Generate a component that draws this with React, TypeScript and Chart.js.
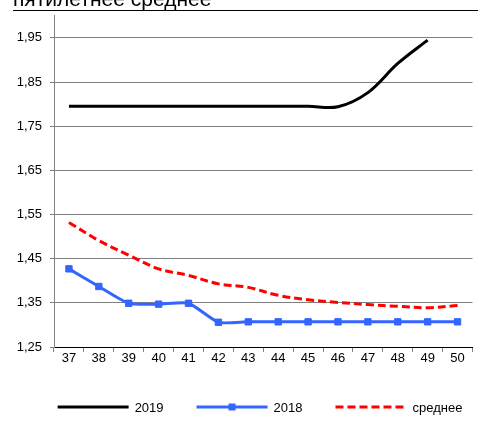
import React, { useEffect, useRef } from "react";
import { Chart, registerables } from "chart.js";

Chart.register(...registerables);

const titleText = "пятилетнее среднее";
const weeks = ["37", "38", "39", "40", "41", "42", "43", "44", "45", "46", "47", "48", "49", "50"];
const label2019 = "2019";
const label2018 = "2018";
const labelAvg = "среднее";
const values2019 = [1.795, 1.795, 1.795, 1.795, 1.795, 1.795, 1.795, 1.795, 1.795, 1.794, 1.826, 1.892, 1.945, null];
const values2018 = [1.427, 1.387, 1.349, 1.347, 1.349, 1.306, 1.307, 1.307, 1.307, 1.307, 1.307, 1.307, 1.307, 1.307];
const valuesAvg = [1.532, 1.491, 1.458, 1.427, 1.412, 1.393, 1.385, 1.367, 1.357, 1.351, 1.346, 1.342, 1.339, 1.344];
const yTicks = [1.25, 1.35, 1.45, 1.55, 1.65, 1.75, 1.85, 1.95];

const FONT = "'Liberation Sans', Arial, sans-serif";
const BLACK = "#000000";
const BLUE = "#3366ff";
const RED = "#ff0000";
const GRID = "#808080";

const decorPlugin = {
  id: "decor",
  afterDraw(chart: any) {
    const ctx = chart.ctx as CanvasRenderingContext2D;
    ctx.save();
    // clipped title
    ctx.font = `21px ${FONT}`;
    ctx.fillStyle = "#000";
    ctx.textBaseline = "alphabetic";
    ctx.textAlign = "left";
    ctx.fillText(titleText, 13, 6);
    // rule under title
    ctx.strokeStyle = "#000";
    ctx.lineWidth = 1;
    ctx.beginPath();
    ctx.moveTo(13, 10.5);
    ctx.lineTo(chart.width, 10.5);
    ctx.stroke();

    // legend
    ctx.font = `13px ${FONT}`;
    const lineLen = 71;
    const textGap = 6;
    const itemGap = 33;
    const items = chart.data.datasets.map((ds: any) => ({
      label: ds.label,
      color: ds.borderColor,
      dash: ds.borderDash || [],
      marker: ds.pointRadius > 0,
      w: ctx.measureText(ds.label).width,
    }));
    let total = 0;
    items.forEach((it: any, i: number) => {
      total += lineLen + textGap + it.w + (i < items.length - 1 ? itemGap : 0);
    });
    let x = 260 - total / 2;
    const y = 407;
    items.forEach((it: any) => {
      ctx.strokeStyle = it.color;
      ctx.lineWidth = 3;
      ctx.setLineDash(it.dash);
      ctx.beginPath();
      ctx.moveTo(x, y);
      ctx.lineTo(x + lineLen, y);
      ctx.stroke();
      ctx.setLineDash([]);
      if (it.marker) {
        ctx.fillStyle = it.color;
        ctx.fillRect(x + lineLen / 2 - 3.5, y - 3.5, 7, 7);
      }
      ctx.fillStyle = "#000";
      ctx.textBaseline = "middle";
      ctx.fillText(it.label, x + lineLen + textGap, y + 1);
      x += lineLen + textGap + it.w + itemGap;
    });
    ctx.restore();
  },
};

export default function App() {
  const ref = useRef<HTMLCanvasElement | null>(null);
  useEffect(() => {
    document.body.style.margin = "0";
    const chart = new Chart(ref.current as HTMLCanvasElement, {
      type: "line",
      data: {
        labels: weeks,
        datasets: [
          {
            label: label2019,
            data: values2019,
            borderColor: BLACK,
            backgroundColor: BLACK,
            borderWidth: 3,
            pointRadius: 0,
            tension: 0.35,
          },
          {
            label: label2018,
            data: values2018,
            borderColor: BLUE,
            backgroundColor: BLUE,
            borderWidth: 3,
            pointRadius: 4.5,
            pointStyle: "rect",
            pointBorderWidth: 1,
            pointBorderColor: BLUE,
            pointBackgroundColor: BLUE,
            tension: 0.2,
          },
          {
            label: labelAvg,
            data: valuesAvg,
            borderColor: RED,
            backgroundColor: RED,
            borderWidth: 3,
            borderDash: [8, 4],
            pointRadius: 0,
            tension: 0.35,
          },
        ],
      },
      options: {
        responsive: false,
        animation: false,
        layout: { padding: { top: 13, left: 0, right: 0, bottom: 0 } },
        plugins: {
          legend: { display: false },
          title: { display: false },
          tooltip: { enabled: false },
        },
        scales: {
          x: {
            offset: true,
            grid: {
              display: true,
              drawOnChartArea: false,
              offset: true,
              tickLength: 5,
              color: GRID,
            },
            border: { display: true, color: BLACK, width: 1 },
            ticks: {
              color: "#000",
              font: { family: FONT, size: 13 },
              padding: -1,
              maxRotation: 0,
              autoSkip: false,
            },
            afterFit(scale: any) {
              scale.height = 74;
            },
          },
          y: {
            min: 1.25,
            max: 2.0,
            afterBuildTicks(scale: any) {
              scale.ticks = yTicks.map((v) => ({ value: v }));
            },
            grid: {
              color: GRID,
              tickLength: 4,
              lineWidth: 1,
            },
            border: { display: true, color: GRID, width: 1 },
            ticks: {
              color: "#000",
              font: { family: FONT, size: 13 },
              padding: 8,
              callback: (v: any) => Number(v).toFixed(2).replace(".", ","),
            },
            afterFit(scale: any) {
              scale.width = 54;
            },
          },
        },
      },
      plugins: [decorPlugin],
    });
    return () => chart.destroy();
  }, []);
  return <canvas ref={ref} width={478} height={421} style={{ display: "block" }} />;
}
